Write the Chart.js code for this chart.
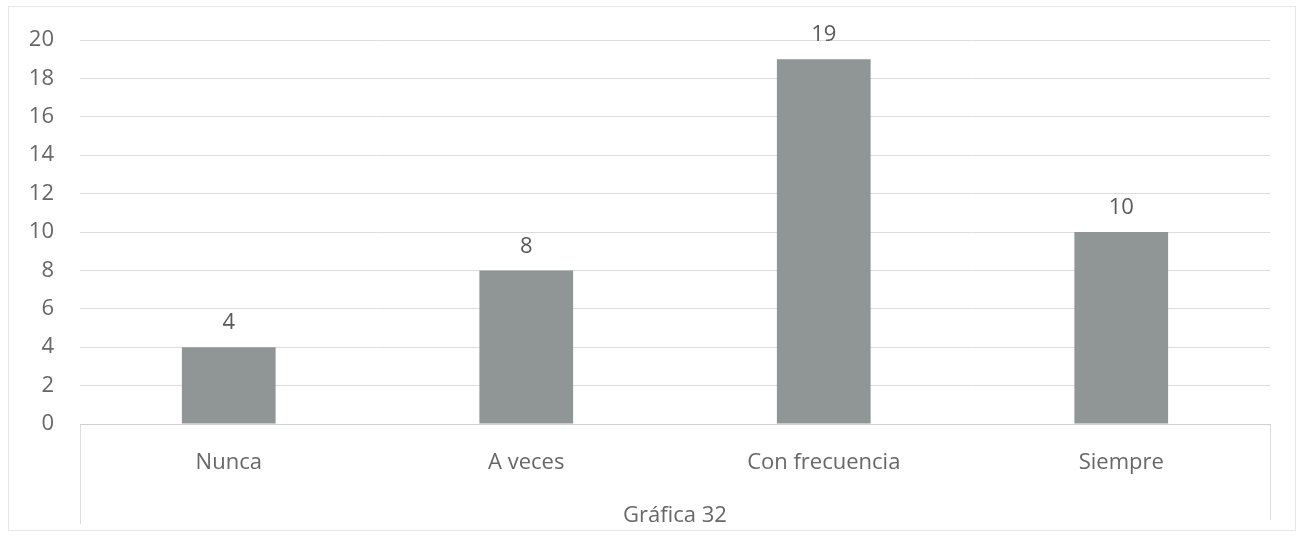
<!DOCTYPE html>
<html>
<head>
<meta charset="utf-8">
<script src="https://cdn.jsdelivr.net/npm/chart.js@4"></script>
<style>
    html, body { margin: 0; padding: 0; background: #fff; }
    #wrap { width: 1304px; height: 540px; position: relative; }
</style>
</head>
<body>
<div id="wrap"><canvas id="myChart" width="1304" height="540"></canvas></div>
<script>
"use strict";
var categorias = ["Nunca", "A veces", "Con frecuencia", "Siempre"];
var valores = [4, 8, 19, 10];
var ticksY = [0, 2, 4, 6, 8, 10, 12, 14, 16, 18, 20];
var titulo = "Gráfica 32";

var corTexto = "#676767";
var corGrade = "#dcdcdc";
var fonte = "'Open Sans', sans-serif";

// rótulos de valor em cima das barras
var rotulos = {
    id: "rotulos",
    afterDatasetsDraw: function (chart) {
        var ctx = chart.ctx;
        var meta = chart.getDatasetMeta(0);
        ctx.save();
        ctx.fillStyle = "#5a5a5a";
        ctx.font = "22px " + fonte;
        ctx.textAlign = "center";
        ctx.textBaseline = "middle";
        for (var i = 0; i < meta.data.length; i++) {
            var bar = meta.data[i];
            ctx.fillText(String(valores[i]), bar.x, bar.y - 24);
        }
        ctx.restore();
    }
};

// moldura, bordas do eixo de categorias e título em baixo (centrado na área do gráfico)
var moldura = {
    id: "moldura",
    beforeDraw: function (chart) {
        var ctx = chart.ctx;
        var a = chart.chartArea;
        ctx.save();
        ctx.strokeStyle = "#e6e6e6";
        ctx.lineWidth = 1;
        ctx.strokeRect(8.5, 6.5, 1287, 524);
        ctx.strokeStyle = corGrade;
        ctx.beginPath();
        ctx.moveTo(Math.round(a.left) + 0.5, a.bottom);
        ctx.lineTo(Math.round(a.left) + 0.5, a.bottom + 100);
        ctx.moveTo(Math.round(a.right) + 0.5, a.bottom);
        ctx.lineTo(Math.round(a.right) + 0.5, a.bottom + 96);
        ctx.stroke();
        ctx.restore();
    },
    afterDraw: function (chart) {
        var ctx = chart.ctx;
        var a = chart.chartArea;
        ctx.save();
        ctx.fillStyle = corTexto;
        ctx.font = "22px " + fonte;
        ctx.textAlign = "center";
        ctx.textBaseline = "middle";
        ctx.fillText(titulo, (a.left + a.right) / 2, a.bottom + 92);
        ctx.restore();
    }
};

var ctx = document.getElementById('myChart').getContext('2d');
var chart = new Chart(ctx, {
    type: 'bar',
    data: {
        labels: categorias,
        datasets: [{
            data: valores,
            backgroundColor: "#909595",
            borderWidth: 0,
            barPercentage: 0.63,
            categoryPercentage: 0.5
        }]
    },
    options: {
        responsive: false,
        animation: false,
        layout: { padding: { top: 40, right: 34, bottom: 46, left: 0 } },
        plugins: {
            legend: { display: false },
            tooltip: { enabled: false },
            title: { display: false }
        },
        scales: {
            x: {
                grid: { display: false, drawTicks: false },
                border: { display: true, color: "#d0d0d0" },
                ticks: { color: corTexto, padding: 26, font: { family: fonte, size: 22 } },
                afterFit: function (scale) { scale.height = 70; }
            },
            y: {
                min: 0,
                max: 20,
                afterBuildTicks: function (scale) {
                    scale.ticks = ticksY.map(function (v) { return { value: v }; });
                },
                grid: { color: corGrade, drawTicks: false },
                border: { display: false },
                ticks: { color: corTexto, padding: 26, font: { family: fonte, size: 22 } },
                afterFit: function (scale) { scale.width = 80; }
            }
        }
    },
    plugins: [moldura, rotulos]
});
</script>
</body>
</html>
